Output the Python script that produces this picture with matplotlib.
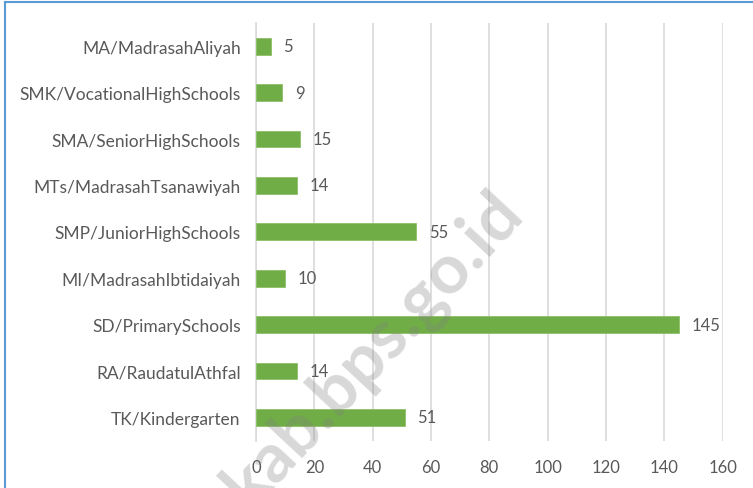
import matplotlib
matplotlib.use("Agg")
import matplotlib.pyplot as plt
from matplotlib.lines import Line2D

categories = ["MA/MadrasahAliyah", "SMK/VocationalHighSchools", "SMA/SeniorHighSchools",
              "MTs/MadrasahTsanawiyah", "SMP/JuniorHighSchools", "MI/MadrasahIbtidaiyah",
              "SD/PrimarySchools", "RA/RaudatulAthfal", "TK/Kindergarten"]
values = [5, 9, 15, 14, 55, 10, 145, 14, 51]
xticks = [0, 20, 40, 60, 80, 100, 120, 140, 160]

plt.rcParams['font.family'] = ['Lato', 'DejaVu Sans']
text_color = '#595959'

fig = plt.figure(figsize=(7.53, 4.89), dpi=100)
ax = fig.add_axes([256/753, 1-441.7/489, (722.6-256)/753, (441.7-24)/489])

ypos = list(range(len(categories)))
ax.barh(ypos, values, height=0.36, color='#70AD47', edgecolor='#8cc068', linewidth=0.6, zorder=3)
for y, v in zip(ypos, values):
    ax.annotate(str(v), xy=(v, y), xytext=(9, 0), textcoords='offset points',
                va='center', ha='left', fontsize=12, color=text_color, zorder=4)

ax.set_xlim(0, 160)
ax.set_ylim(len(categories) - 0.5, -0.5)
ax.set_yticks(ypos)
ax.set_yticklabels(categories, fontsize=12.5, color=text_color)
ax.set_xticks(xticks)
ax.set_xticklabels([str(t) for t in xticks], fontsize=12, color=text_color)
ax.tick_params(axis='both', length=0)
ax.tick_params(axis='y', pad=11)
ax.tick_params(axis='x', pad=13)
ax.grid(axis='x', color='#D9D9D9', linewidth=1.2, zorder=0)
for s in ['top', 'right', 'bottom']:
    ax.spines[s].set_visible(False)
ax.spines['left'].set_color('#D9D9D9')
ax.spines['left'].set_linewidth(1.2)

# outer border (top and left visible)
fig.add_artist(Line2D([5/753, 1.0], [1-2.5/489, 1-2.5/489], color='#5B9BD5', linewidth=1.5))
fig.add_artist(Line2D([5/753, 5/753], [0.0, 1-2.5/489], color='#5B9BD5', linewidth=1.5))

# watermark
fig.text(374/753, 1-350/489, "kab.bps.go.id", rotation=47, fontsize=50, fontweight='bold',
         color='#7f7f7f', alpha=0.3, ha='center', va='center', zorder=10)

fig.savefig("out.png", dpi=100, facecolor='white')
